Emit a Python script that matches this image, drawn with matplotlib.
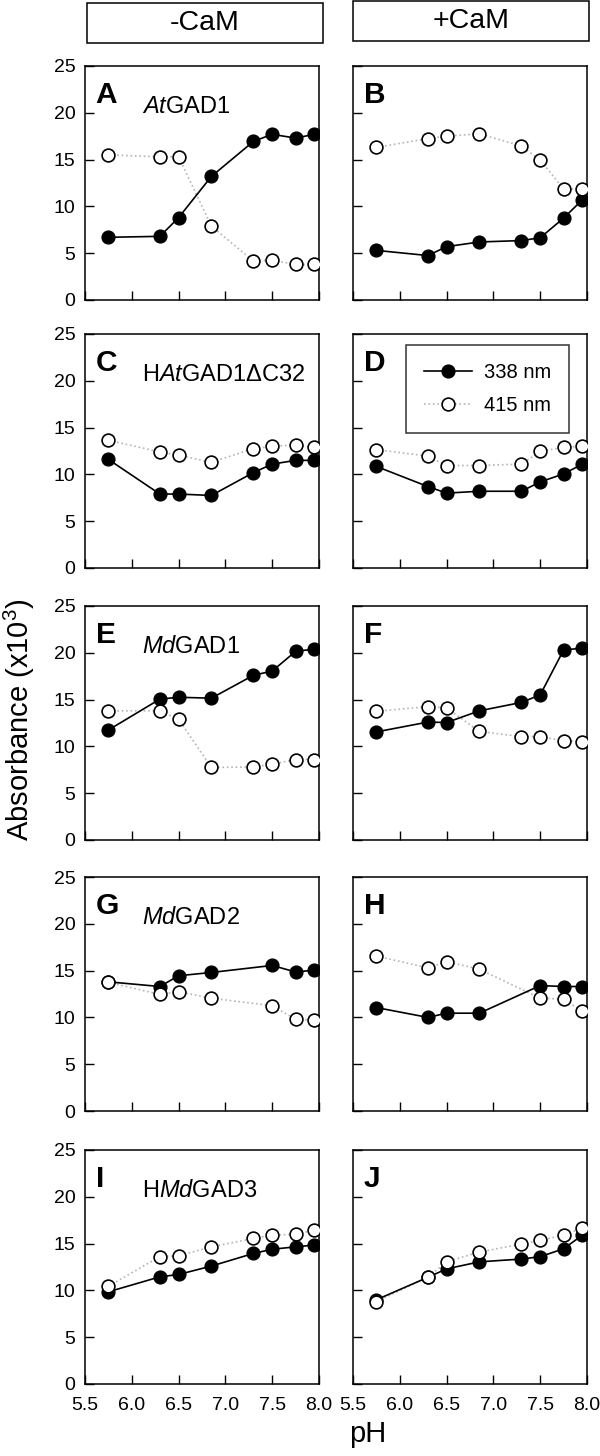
import numpy as np
import matplotlib
matplotlib.use("Agg")
import matplotlib.pyplot as plt
from matplotlib.patches import Rectangle
from matplotlib.lines import Line2D

plt.rcParams['font.family'] = ['Liberation Sans', 'DejaVu Sans']
plt.rcParams['mathtext.fontset'] = 'custom'
plt.rcParams['mathtext.rm'] = 'Liberation Sans'
plt.rcParams['mathtext.it'] = 'Liberation Sans:italic'

PH = [5.75, 6.3, 6.5, 6.85, 7.3, 7.5, 7.75, 7.95]

# absorbance x10^3 ; None = not measured
A_338 = [6.7, 6.8, 8.8, 13.2, 16.95, 17.7, 17.3, 17.7]
A_415 = [15.5, 15.3, 15.3, 7.9, 4.15, 4.25, 3.8, 3.8]
B_338 = [5.3, 4.75, 5.7, 6.2, 6.35, 6.65, 8.75, 10.7]
B_415 = [16.3, 17.25, 17.5, 17.75, 16.45, 14.95, 11.85, 11.85]
C_338 = [11.6, 7.9, 7.9, 7.75, 10.2, 11.1, 11.5, 11.5]
C_415 = [13.65, 12.4, 12.05, 11.3, 12.75, 13.0, 13.15, 12.9]
D_338 = [10.85, 8.7, 8.0, 8.2, 8.2, 9.2, 10.05, 11.1]
D_415 = [12.65, 11.95, 10.95, 10.95, 11.1, 12.45, 12.9, 13.0]
E_338 = [11.75, 15.05, 15.25, 15.15, 17.6, 18.05, 20.15, 20.4]
E_415 = [13.8, 13.8, 12.9, 7.75, 7.8, 8.1, 8.6, 8.6]
F_338 = [11.55, 12.6, 12.55, 13.8, 14.7, 15.5, 20.3, 20.5]
F_415 = [13.75, 14.25, 14.1, 11.6, 11.05, 11.05, 10.6, 10.5]
G_338 = [13.8, 13.3, 14.45, 14.8, None, 15.55, 14.85, 15.05]
G_415 = [13.75, 12.45, 12.75, 12.05, None, 11.25, 9.8, 9.7]
H_338 = [11.05, 10.0, 10.45, 10.45, None, 13.4, 13.3, 13.3]
H_415 = [16.55, 15.3, 15.95, 15.15, None, 12.05, 11.95, 10.65]
I_338 = [9.85, 11.45, 11.7, 12.6, 13.95, 14.4, 14.65, 14.85]
I_415 = [10.45, 13.6, 13.7, 14.65, 15.55, 15.9, 16.0, 16.45]
J_338 = [9.0, 11.4, 12.3, 13.05, 13.35, 13.6, 14.45, 15.9]
J_415 = [8.8, 11.4, 13.05, 14.1, 14.95, 15.35, 15.9, 16.65]

LETTERS = ["A", "B", "C", "D", "E", "F", "G", "H", "I", "J"]
NAMES = [r"$\it{At}$GAD1", None, r"H$\it{At}$GAD1$\Delta$C32", None,
         r"$\it{Md}$GAD1", None, r"$\it{Md}$GAD2", None, r"H$\it{Md}$GAD3", None]
SERIES = [(A_338, A_415), (B_338, B_415), (C_338, C_415), (D_338, D_415),
          (E_338, E_415), (F_338, F_415), (G_338, G_415), (H_338, H_415),
          (I_338, I_415), (J_338, J_415)]

W, H = 600, 1456
fig = plt.figure(figsize=(W / 100, H / 100), dpi=100)

col_left = [85, 353]
ax_w = 234
row_top = [66, 334, 606, 877, 1150]
ax_h = 234
MS = 9.2


def clean(y):
    xs = [p for p, v in zip(PH, y) if v is not None]
    ys = [v for v in y if v is not None]
    return xs, ys


for i, (s338, s415) in enumerate(SERIES):
    r, c = divmod(i, 2)
    ax = fig.add_axes([col_left[c] / W, 1 - (row_top[r] + ax_h) / H, ax_w / W, ax_h / H])
    x1, y1 = clean(s338)
    x2, y2 = clean(s415)
    ax.plot(x1, y1, '-', color='black', lw=1.2, marker='o', ms=MS,
            mfc='black', mec='black', zorder=3)
    ax.plot(x2, y2, ':', color='#b5b5b5', lw=1.2, zorder=2)
    ax.plot(x2, y2, 'o', ms=MS, mfc='white', mec='black', mew=1.2, zorder=4)
    ax.set_xlim(5.5, 8.0)
    ax.set_ylim(0, 25)
    ax.set_xticks([5.5, 6.0, 6.5, 7.0, 7.5, 8.0])
    ax.set_yticks([0, 5, 10, 15, 20, 25])
    ax.tick_params(direction='in', length=6.5, width=1.0, labelsize=14)
    ax.tick_params(axis='x', pad=9)
    ax.tick_params(axis='y', pad=7)
    if r < 4:
        ax.tick_params(labelbottom=False)
    else:
        ax.set_xticklabels(['5.5', '6.0', '6.5', '7.0', '7.5', '8.0'])
    if c == 1:
        ax.tick_params(labelleft=False)
    for sp in ax.spines.values():
        sp.set_linewidth(1.1)
    ax.text(0.045, 0.84, LETTERS[i], transform=ax.transAxes, fontsize=21.5,
            fontweight='bold', va='baseline', ha='left')
    if NAMES[i]:
        ax.text(0.245, 0.80, NAMES[i], transform=ax.transAxes, fontsize=17,
                va='baseline', ha='left')
    if i == 3:
        handles = [Line2D([], [], color='black', lw=1.2, marker='o', ms=MS,
                          mfc='black', mec='black'),
                   Line2D([], [], color='#b5b5b5', lw=1.2, ls=':', marker='o',
                          ms=MS, mfc='white', mec='black', mew=1.2)]
        leg = ax.legend(handles, ['338 nm', '415 nm'], loc='upper right',
                        bbox_to_anchor=(0.925, 0.955), fontsize=14.5, frameon=True,
                        fancybox=False, edgecolor='black', handlelength=2.4,
                        handletextpad=0.6, borderpad=0.9, labelspacing=0.7,
                        borderaxespad=0)
        leg.get_frame().set_linewidth(1.1)

# header boxes
for (x0, y0, x1, y1, lab) in [(87, 3, 323, 43, "-CaM"), (353, 1, 589, 41, "+CaM")]:
    fig.patches.append(Rectangle((x0 / W, 1 - y1 / H), (x1 - x0) / W, (y1 - y0) / H,
                                 transform=fig.transFigure, fill=False,
                                 edgecolor='black', lw=1.1))
    fig.text((x0 + x1) / 2 / W, 1 - (y0 + y1) / 2 / H, lab, fontsize=20.5,
             ha='center', va='center')

fig.text(19 / W, 1 - 720 / H, r"Absorbance (x10$^{3}$)", rotation=90,
         fontsize=21, ha='center', va='center')
fig.text(368 / W, 1 - 1434 / H, "pH", fontsize=21, ha='center', va='center')

fig.savefig("out.png", dpi=100)
